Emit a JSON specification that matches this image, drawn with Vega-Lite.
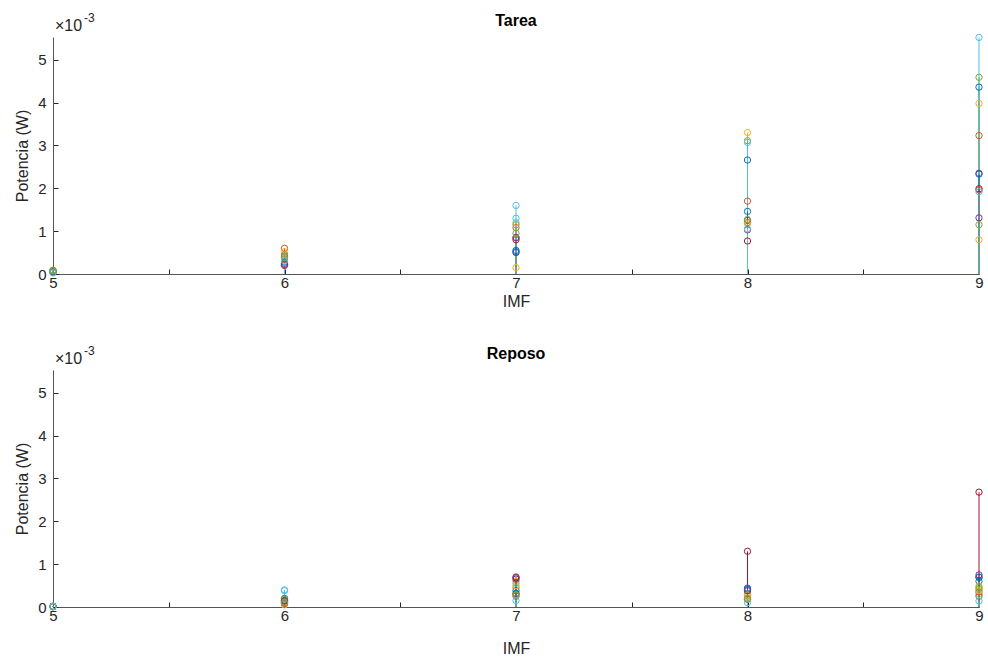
{
  "$schema": "https://vega.github.io/schema/vega-lite/v6.json",
  "padding": {"left": 14, "top": 12, "right": 4, "bottom": 2},
  "spacing": 36,
  "config": {
    "font": "Liberation Sans",
    "view": {"stroke": null},
    "axis": {"grid": false, "domainColor": "#555555", "tickColor": "#262626", "labelColor": "#262626", "titleColor": "#262626", "labelFontSize": 15, "titleFontSize": 16, "titleFontWeight": "normal", "tickSize": -5, "labelFlush": false, "labelOverlap": false},
    "title": {"fontSize": 16, "fontWeight": "bold", "color": "#000000", "offset": -17}
  },
  "datasets": {
    "d": [
      {"g":"Tarea","s":"S1","imf":5,"p":0.00005},{"g":"Tarea","s":"S2","imf":5,"p":0.00008},{"g":"Tarea","s":"S3","imf":5,"p":0.00004},{"g":"Tarea","s":"S4","imf":5,"p":0.00006},{"g":"Tarea","s":"S5","imf":5,"p":0.00009},{"g":"Tarea","s":"S6","imf":5,"p":0.00003},{"g":"Tarea","s":"S7","imf":5,"p":0.00005},{"g":"Tarea","s":"S8","imf":5,"p":0.00007},{"g":"Tarea","s":"S9","imf":5,"p":0.00004},{"g":"Tarea","s":"S10","imf":5,"p":0.00006},{"g":"Tarea","s":"S11","imf":5,"p":0.00005},{"g":"Tarea","s":"S12","imf":5,"p":0.00008},{"g":"Tarea","s":"S13","imf":5,"p":0.00003},
      {"g":"Tarea","s":"S1","imf":6,"p":0.00035},{"g":"Tarea","s":"S2","imf":6,"p":0.0006},{"g":"Tarea","s":"S3","imf":6,"p":0.00052},{"g":"Tarea","s":"S4","imf":6,"p":0.00025},{"g":"Tarea","s":"S5","imf":6,"p":0.00045},{"g":"Tarea","s":"S6","imf":6,"p":0.0004},{"g":"Tarea","s":"S7","imf":6,"p":0.0002},{"g":"Tarea","s":"S8","imf":6,"p":0.00028},{"g":"Tarea","s":"S9","imf":6,"p":0.00042},{"g":"Tarea","s":"S10","imf":6,"p":0.00033},{"g":"Tarea","s":"S11","imf":6,"p":0.00022},{"g":"Tarea","s":"S12","imf":6,"p":0.00038},{"g":"Tarea","s":"S13","imf":6,"p":0.0003},
      {"g":"Tarea","s":"S1","imf":7,"p":0.00055},{"g":"Tarea","s":"S2","imf":7,"p":0.00108},{"g":"Tarea","s":"S3","imf":7,"p":0.0012},{"g":"Tarea","s":"S4","imf":7,"p":0.0005},{"g":"Tarea","s":"S5","imf":7,"p":0.00115},{"g":"Tarea","s":"S6","imf":7,"p":0.0016},{"g":"Tarea","s":"S7","imf":7,"p":0.0008},{"g":"Tarea","s":"S8","imf":7,"p":0.00052},{"g":"Tarea","s":"S9","imf":7,"p":0.00085},{"g":"Tarea","s":"S10","imf":7,"p":0.00015},{"g":"Tarea","s":"S11","imf":7,"p":0.00085},{"g":"Tarea","s":"S12","imf":7,"p":0.00095},{"g":"Tarea","s":"S13","imf":7,"p":0.0013},
      {"g":"Tarea","s":"S1","imf":8,"p":0.00266},{"g":"Tarea","s":"S2","imf":8,"p":0.0017},{"g":"Tarea","s":"S3","imf":8,"p":0.0033},{"g":"Tarea","s":"S4","imf":8,"p":0.00125},{"g":"Tarea","s":"S5","imf":8,"p":0.00311},{"g":"Tarea","s":"S6","imf":8,"p":0.00307},{"g":"Tarea","s":"S7","imf":8,"p":0.00077},{"g":"Tarea","s":"S8","imf":8,"p":0.00146},{"g":"Tarea","s":"S9","imf":8,"p":0.0012},{"g":"Tarea","s":"S10","imf":8,"p":0.00117},{"g":"Tarea","s":"S11","imf":8,"p":0.00103},{"g":"Tarea","s":"S12","imf":8,"p":0.00127},{"g":"Tarea","s":"S13","imf":8,"p":0.00105},
      {"g":"Tarea","s":"S1","imf":9,"p":0.00436},{"g":"Tarea","s":"S2","imf":9,"p":0.00323},{"g":"Tarea","s":"S3","imf":9,"p":0.00398},{"g":"Tarea","s":"S4","imf":9,"p":0.00235},{"g":"Tarea","s":"S5","imf":9,"p":0.00459},{"g":"Tarea","s":"S6","imf":9,"p":0.00552},{"g":"Tarea","s":"S7","imf":9,"p":0.00199},{"g":"Tarea","s":"S8","imf":9,"p":0.00233},{"g":"Tarea","s":"S9","imf":9,"p":0.00196},{"g":"Tarea","s":"S10","imf":9,"p":0.0008},{"g":"Tarea","s":"S11","imf":9,"p":0.00131},{"g":"Tarea","s":"S12","imf":9,"p":0.00115},{"g":"Tarea","s":"S13","imf":9,"p":0.00192},
      {"g":"Reposo","s":"S1","imf":5,"p":0.00001},{"g":"Reposo","s":"S2","imf":5,"p":0.000015},{"g":"Reposo","s":"S3","imf":5,"p":0.000008},{"g":"Reposo","s":"S4","imf":5,"p":0.000012},{"g":"Reposo","s":"S5","imf":5,"p":0.00002},{"g":"Reposo","s":"S6","imf":5,"p":0.000006},{"g":"Reposo","s":"S7","imf":5,"p":0.00001},{"g":"Reposo","s":"S8","imf":5,"p":0.000014},{"g":"Reposo","s":"S9","imf":5,"p":0.000009},{"g":"Reposo","s":"S10","imf":5,"p":0.000011},{"g":"Reposo","s":"S11","imf":5,"p":0.000013},{"g":"Reposo","s":"S12","imf":5,"p":0.000007},{"g":"Reposo","s":"S13","imf":5,"p":0.000016},
      {"g":"Reposo","s":"S1","imf":6,"p":0.0002},{"g":"Reposo","s":"S2","imf":6,"p":0.00015},{"g":"Reposo","s":"S3","imf":6,"p":0.00005},{"g":"Reposo","s":"S4","imf":6,"p":0.00012},{"g":"Reposo","s":"S5","imf":6,"p":0.00018},{"g":"Reposo","s":"S6","imf":6,"p":0.00038},{"g":"Reposo","s":"S7","imf":6,"p":0.0001},{"g":"Reposo","s":"S8","imf":6,"p":0.00015},{"g":"Reposo","s":"S9","imf":6,"p":0.00008},{"g":"Reposo","s":"S10","imf":6,"p":0.00012},{"g":"Reposo","s":"S11","imf":6,"p":0.00014},{"g":"Reposo","s":"S12","imf":6,"p":0.0001},{"g":"Reposo","s":"S13","imf":6,"p":0.0004},
      {"g":"Reposo","s":"S1","imf":7,"p":0.00038},{"g":"Reposo","s":"S2","imf":7,"p":0.0003},{"g":"Reposo","s":"S3","imf":7,"p":0.0006},{"g":"Reposo","s":"S4","imf":7,"p":0.0007},{"g":"Reposo","s":"S5","imf":7,"p":0.00045},{"g":"Reposo","s":"S6","imf":7,"p":0.00055},{"g":"Reposo","s":"S7","imf":7,"p":0.00068},{"g":"Reposo","s":"S8","imf":7,"p":0.00032},{"g":"Reposo","s":"S9","imf":7,"p":0.00025},{"g":"Reposo","s":"S10","imf":7,"p":0.0005},{"g":"Reposo","s":"S11","imf":7,"p":0.00065},{"g":"Reposo","s":"S12","imf":7,"p":0.00028},{"g":"Reposo","s":"S13","imf":7,"p":0.00015},
      {"g":"Reposo","s":"S1","imf":8,"p":0.00044},{"g":"Reposo","s":"S2","imf":8,"p":0.0003},{"g":"Reposo","s":"S3","imf":8,"p":0.00022},{"g":"Reposo","s":"S4","imf":8,"p":0.0004},{"g":"Reposo","s":"S5","imf":8,"p":0.00026},{"g":"Reposo","s":"S6","imf":8,"p":0.00018},{"g":"Reposo","s":"S7","imf":8,"p":0.0013},{"g":"Reposo","s":"S8","imf":8,"p":0.00042},{"g":"Reposo","s":"S9","imf":8,"p":0.00018},{"g":"Reposo","s":"S10","imf":8,"p":0.00028},{"g":"Reposo","s":"S11","imf":8,"p":0.00038},{"g":"Reposo","s":"S12","imf":8,"p":0.0002},{"g":"Reposo","s":"S13","imf":8,"p":0.0001},
      {"g":"Reposo","s":"S1","imf":9,"p":0.0006},{"g":"Reposo","s":"S2","imf":9,"p":0.00035},{"g":"Reposo","s":"S3","imf":9,"p":0.00049},{"g":"Reposo","s":"S4","imf":9,"p":0.0007},{"g":"Reposo","s":"S5","imf":9,"p":0.00041},{"g":"Reposo","s":"S6","imf":9,"p":0.0003},{"g":"Reposo","s":"S7","imf":9,"p":0.00268},{"g":"Reposo","s":"S8","imf":9,"p":0.00069},{"g":"Reposo","s":"S9","imf":9,"p":0.00025},{"g":"Reposo","s":"S10","imf":9,"p":0.00038},{"g":"Reposo","s":"S11","imf":9,"p":0.00075},{"g":"Reposo","s":"S12","imf":9,"p":0.00045},{"g":"Reposo","s":"S13","imf":9,"p":0.00014}
    ]
  },
  "vconcat": [
    {
      "width": 926, "height": 237,
      "title": {"text": "Tarea"},
      "data": {"name": "d"},
      "transform": [{"filter": "datum.g === 'Tarea'"}],
      "encoding": {
        "x": {"field": "imf", "type": "quantitative", "scale": {"domain": [5, 9], "nice": false, "zero": false},
              "axis": {"title": "IMF", "values": [5, 5.5, 6, 6.5, 7, 7.5, 8, 8.5, 9], "labelExpr": "datum.value % 1 === 0 ? datum.value : ''", "labelPadding": 6, "titlePadding": 3}}
      },
      "layer": [
        {"mark": {"type": "rule", "strokeWidth": 1},
         "encoding": {
           "y": {"field": "p", "type": "quantitative", "scale": {"domain": [0, 0.00553], "nice": false},
                 "axis": {"title": "Potencia (W)", "values": [0, 0.001, 0.002, 0.003, 0.004, 0.005], "labelExpr": "round(datum.value * 1000)", "labelPadding": 12, "titlePadding": 7}},
           "y2": {"datum": 0},
           "color": {"field": "s", "type": "nominal", "legend": null, "scale": {"domain": ["S1","S2","S3","S4","S5","S6","S7","S8","S9","S10","S11","S12","S13"], "range": ["#0072BD","#D95319","#EDB120","#7E2F8E","#77AC30","#4DBEEE","#A2142F","#0072BD","#D95319","#EDB120","#7E2F8E","#77AC30","#4DBEEE"]}}
         }},
        {"mark": {"type": "point", "shape": "circle", "filled": false, "size": 40, "strokeWidth": 1, "opacity": 1},
         "encoding": {
           "y": {"field": "p", "type": "quantitative"},
           "color": {"field": "s", "type": "nominal", "legend": null}
         }},
        {"transform": [{"filter": "datum.s === 'S1' && datum.imf === 5"}],
         "mark": {"type": "text", "text": "×10", "align": "left", "baseline": "alphabetic", "dx": 2, "dy": -6, "fontSize": 16, "fill": "#262626"},
         "encoding": {"x": {"datum": 5, "type": "quantitative"}, "y": {"datum": 0.00553, "type": "quantitative"}}},
        {"transform": [{"filter": "datum.s === 'S1' && datum.imf === 5"}],
         "mark": {"type": "text", "text": "-3", "align": "left", "baseline": "alphabetic", "dx": 31, "dy": -15, "fontSize": 12, "fill": "#262626"},
         "encoding": {"x": {"datum": 5, "type": "quantitative"}, "y": {"datum": 0.00553, "type": "quantitative"}}}
      ]
    },
    {
      "width": 926, "height": 237,
      "title": {"text": "Reposo"},
      "data": {"name": "d"},
      "transform": [{"filter": "datum.g === 'Reposo'"}],
      "encoding": {
        "x": {"field": "imf", "type": "quantitative", "scale": {"domain": [5, 9], "nice": false, "zero": false},
              "axis": {"title": "IMF", "values": [5, 5.5, 6, 6.5, 7, 7.5, 8, 8.5, 9], "labelExpr": "datum.value % 1 === 0 ? datum.value : ''", "labelPadding": 6, "titlePadding": 17}}
      },
      "layer": [
        {"mark": {"type": "rule", "strokeWidth": 1},
         "encoding": {
           "y": {"field": "p", "type": "quantitative", "scale": {"domain": [0, 0.00553], "nice": false},
                 "axis": {"title": "Potencia (W)", "values": [0, 0.001, 0.002, 0.003, 0.004, 0.005], "labelExpr": "round(datum.value * 1000)", "labelPadding": 12, "titlePadding": 7}},
           "y2": {"datum": 0},
           "color": {"field": "s", "type": "nominal", "legend": null, "scale": {"domain": ["S1","S2","S3","S4","S5","S6","S7","S8","S9","S10","S11","S12","S13"], "range": ["#0072BD","#D95319","#EDB120","#7E2F8E","#77AC30","#4DBEEE","#A2142F","#0072BD","#D95319","#EDB120","#7E2F8E","#77AC30","#4DBEEE"]}}
         }},
        {"mark": {"type": "point", "shape": "circle", "filled": false, "size": 40, "strokeWidth": 1, "opacity": 1},
         "encoding": {
           "y": {"field": "p", "type": "quantitative"},
           "color": {"field": "s", "type": "nominal", "legend": null}
         }},
        {"transform": [{"filter": "datum.s === 'S1' && datum.imf === 5"}],
         "mark": {"type": "text", "text": "×10", "align": "left", "baseline": "alphabetic", "dx": 2, "dy": -6, "fontSize": 16, "fill": "#262626"},
         "encoding": {"x": {"datum": 5, "type": "quantitative"}, "y": {"datum": 0.00553, "type": "quantitative"}}},
        {"transform": [{"filter": "datum.s === 'S1' && datum.imf === 5"}],
         "mark": {"type": "text", "text": "-3", "align": "left", "baseline": "alphabetic", "dx": 31, "dy": -15, "fontSize": 12, "fill": "#262626"},
         "encoding": {"x": {"datum": 5, "type": "quantitative"}, "y": {"datum": 0.00553, "type": "quantitative"}}}
      ]
    }
  ]
}
